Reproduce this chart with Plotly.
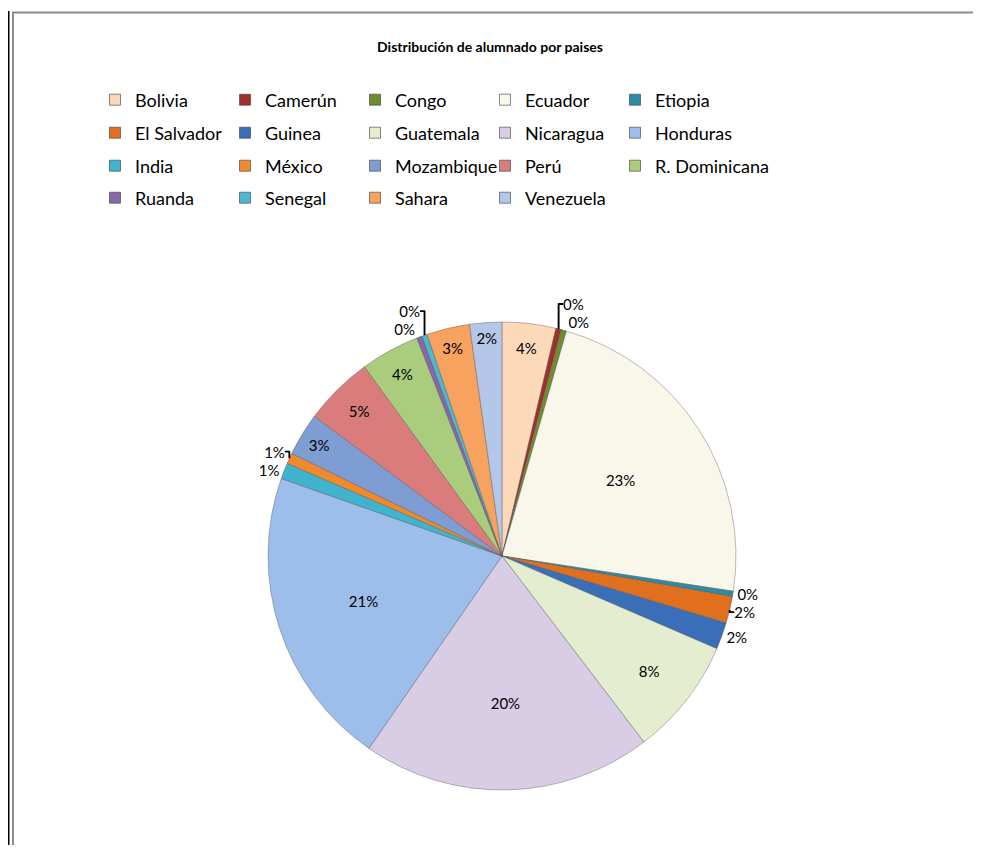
import plotly.graph_objects as go

# Data (student counts per country)
paises = ["Bolivia", "Camerún", "Congo", "Ecuador", "Etiopia",
          "El Salvador", "Guinea", "Guatemala", "Nicaragua", "Honduras",
          "India", "México", "Mozambique", "Perú", "R. Dominicana",
          "Ruanda", "Senegal", "Sahara", "Venezuela"]
alumnos = [10, 1, 1, 62, 1,
           5, 5, 22, 54, 56,
           3, 2, 8, 13, 11,
           1, 1, 8, 6]
colores = ["#FCD9B8", "#A0302C", "#6E8E2E", "#F9F7EA", "#2E8BA6",
           "#E0701E", "#3A6FB8", "#E4EDCF", "#D9CDE5", "#9DBDEB",
           "#40B4CF", "#F08A2E", "#7E9DD2", "#D97C7B", "#A9CD7C",
           "#8667A8", "#4FB8D0", "#F7A25E", "#B4C7E8"]
posiciones = ["inside", "outside", "outside", "inside", "outside",
              "outside", "outside", "inside", "inside", "inside",
              "outside", "outside", "inside", "inside", "inside",
              "outside", "outside", "inside", "inside"]
titulo = "Distribución de alumnado por paises"

# Page has an 8px body margin, so the figure is sized to fit the window
OFF = 8
W, H = 981 - OFF, 853 - 2 * OFF
L, R = 87, 150
PW = W - L - R


def px_x(v):  # page pixel -> paper x
    return (v - OFF - L) / PW


def px_y(v):  # page pixel -> paper y
    return (H - (v - OFF)) / H


fig = go.Figure()
fig.add_trace(go.Pie(
    labels=paises,
    values=alumnos,
    sort=False,
    direction="clockwise",
    rotation=0,
    marker=dict(colors=colores, line=dict(color="rgba(80,80,80,0.55)", width=0.7)),
    texttemplate="%{percent:.0%}",
    textposition=posiciones,
    insidetextorientation="horizontal",
    textfont=dict(family="Lato", size=15, color="#000000"),
    hoverinfo="label+value+percent",
    showlegend=False,
    domain=dict(x=[px_x(268), px_x(736)], y=[px_y(790), px_y(322)]),
))

# legend entries (5 per row, 4 rows), one legend per row
filas_y = [100, 133, 166, 198]
nombres_leyenda = ["legend", "legend2", "legend3", "legend4"]
for i, (p, c) in enumerate(zip(paises, colores)):
    fila = i // 5
    col = i % 5
    fig.add_trace(go.Scatter(
        x=[None], y=[None], mode="markers", name=p,
        marker=dict(symbol="square", size=11, color=c,
                    line=dict(color="rgba(60,60,60,0.6)", width=1)),
        legend=nombres_leyenda[fila],
        legendwidth=150 if col == 4 else 85,
        hoverinfo="skip",
    ))

legend_common = dict(orientation="h", x=0, xanchor="left", yanchor="middle",
                     font=dict(family="Lato", size=18, color="#000000"),
                     traceorder="normal", bgcolor="rgba(0,0,0,0)",
                     entrywidthmode="pixels")

layout_legends = {}
for k, (nm, fy) in enumerate(zip(nombres_leyenda, filas_y)):
    layout_legends[nm] = dict(legend_common, y=px_y(fy))

fig.update_layout(
    width=W, height=H,
    margin=dict(l=L, r=R, t=0, b=0),
    paper_bgcolor="white",
    plot_bgcolor="white",
    font=dict(family="Lato", color="#000000"),
    title=dict(text="<b>" + titulo + "</b>", x=(490 - OFF) / W, xanchor="center",
               y=px_y(47), yanchor="middle",
               font=dict(family="Lato", size=14, color="#000000")),
    xaxis=dict(visible=False),
    yaxis=dict(visible=False),
    showlegend=True,
    shapes=[
        dict(type="line", xref="paper", yref="paper", x0=px_x(8.5), x1=px_x(8.5),
             y0=px_y(11), y1=px_y(860), line=dict(color="#000000", width=2)),
        dict(type="line", xref="paper", yref="paper", x0=px_x(13), x1=px_x(13),
             y0=px_y(12), y1=px_y(860), line=dict(color="#8c8c8c", width=2)),
        dict(type="line", xref="paper", yref="paper", x0=px_x(12), x1=px_x(990),
             y0=px_y(12.5), y1=px_y(12.5), line=dict(color="#8c8c8c", width=2)),
    ],
    **layout_legends,
)

fig.write_html("out.html")
